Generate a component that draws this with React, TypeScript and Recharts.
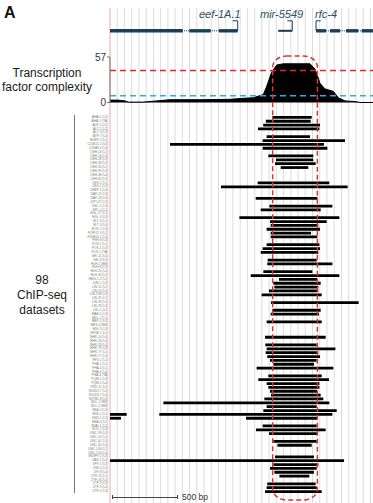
import React from 'react';
import {
  ComposedChart,
  BarChart,
  Bar,
  AreaChart,
  Area,
  Line,
  XAxis,
  YAxis,
  ReferenceLine,
  ReferenceArea
} from 'recharts';

// genomic window in bp
const xDomain = [0, 2000];
const gridStep = 55;
const gridBp = Array.from({ length: 36 }, (_, i) => (i + 1) * gridStep);

// highlighted region (red dashed box)
const highlight = [1237, 1577];

// thresholds on complexity track
const highThreshold = 40;
const lowThreshold = 8.5;
const complexityTicks = [0, 57];

const complexityBp = [0, 60, 114, 139, 253, 355, 456, 684, 912, 989, 1090, 1166, 1191, 1229, 1268, 1318, 1521, 1559, 1597, 1635, 1698, 1736, 1787, 1876, 1901, 2000];
const complexityVal = [3, 3, 2, 0.5, 0.5, 2, 3.5, 3.5, 4, 5, 6, 10, 20, 38, 47, 48.5, 48.5, 42, 24, 17, 14, 6, 2, 1, 0, 0];

// gene models
const geneNames = ['eef-1A.1', 'mir-5549', 'rfc-4'];
const geneLabelX = [199, 260, 315];
const eefExons = [[0, 553], [603, 766], [829, 971]];
const mirExons = [[1280, 1386]];
const rfcExons = [[1567, 1643], [1673, 1749], [1795, 1888], [1914, 2000]];
const geneSpans = [[0, 971], [1280, 1386], [1567, 2000]];
// TSS arrows: [tss, arrow tip]
const tssArrows = [[971, 933], [1386, 1349], [1567, 1602]];

const datasetNames = [
  'AHA-1 (L2)', 'AHA-1 (YA)', 'ALR-1 (L2)', 'ALY-2 (L2)', 'ALY-3 (L3)', 'ATF-7 (L4)', 'BLMP-1 (L1)', 'C01B12.2 (L3)', 'C16A3.4 (L4)', 'CEH-14 (L2)',
  'CEH-16 (L3)', 'CEH-26 (L3)', 'CEH-28 (L3)', 'CEH-30 (L2)', 'CEH-39 (L3)', 'CEH-48 (L4)', 'CEH-82 (L3)', 'CES-1 (L1)', 'CES-1 (L2)', 'CEBP-1 (L4)',
  'DAF-12 (L3)', 'DAF-16 (L4)', 'DPY-27 (L3)', 'DSC-1 (L3)', 'EFL-1 (L1)', 'EGL-27 (L1)', 'EGL-5 (L3)', 'ELT-3 (L1)', 'ELT-3 (L4)', 'EOR-1 (L3)',
  'F23F12.9 (L2)', 'F45H10.2 (L3)', 'FKH-8 (L4)', 'FOS-1 (L1)', 'FOS-1 (L3)', 'FOS-1 (YA)', 'GEI-11 (L4)', 'GEI-3 (L3)', 'HLH-1 (EM)', 'HLH-8 (L3)',
  'HLH-25 (L4)', 'HLH-30 (L4)', 'HMG-1.2 (L2)', 'JUN-1 (L3)', 'LIN-11 (L2)', 'LIN-13 (L3)', 'LIN-15B (L3)', 'LIN-35 (L1)', 'LIN-39 (L3)', 'LIN-39 (L4)',
  'LSL-1 (L2)', 'MAB-5 (L3)', 'MDL-1 (L1)', 'MEP-1 (L4)', 'MES-4 (EM)', 'MIG-5 (L3)', 'NFYA-1 (L2)', 'NHR-10 (L4)', 'NHR-28 (L3)', 'NHR-28 (L4)',
  'NHR-76 (L3)', 'NHR-77 (L1)', 'NHR-77 (L4)', 'PES-1 (L2)', 'PHA-1 (L1)', 'PHA-4 (L1)', 'PHA-4 (L4)', 'PHA-4 (YA)', 'PQM-1 (L3)', 'PQM-1 (L4)',
  'PRX-11 (L2)', 'R02D3.7 (L3)', 'R02D3.7 (L4)', 'R07B1.8 (L3)', 'SDC-2 (EM)', 'SDC-3 (EM)', 'SEA-2 (L3)', 'SKN-1 (L1)', 'SKN-1 (L3)', 'SMA-9 (L2)',
  'SNAI-1 (L2)', 'SOX-2 (L3)', 'UNC-39 (L3)', 'UNC-55 (L2)', 'UNC-62 (L3)', 'UNC-62 (L4)', 'UNC-130 (L2)', 'UNC-130 (L4)', 'W03F9.2 (L3)', 'ZAG-1 (L2)',
  'ZFP-1 (L3)', 'ZIM-2 (L2)', 'ZIP-8 (L4)', 'ZTF-11 (L1)', 'ZTF-16 (L2)', 'ZTF-9 (L3)', 'ZTF-9 (L4)', 'ZTF-2 (L3)'
];

// main peak per dataset (bp), null = no peak in window
const peakA: (number[] | null)[] = [
  [1235, 1534], [1185, 1526], [1165, 1597], [1125, 1592], null,
  [1191, 1521], [1161, 1787], [456, 1627], [1161, 1653], null,
  [1204, 1546], [1262, 1546], [1255, 1564], [1298, 1508], null,
  null, null, [1123, 1668], [844, 1807], null,
  null, [1108, 1577], null, [1212, 1691], [1146, 1602],
  null, [984, 1744], [1217, 1648], [1222, 1584], [1191, 1597],
  [1222, 1529], [1222, 1577], null, [1191, 1592], [1161, 1597],
  [1146, 1584], null, [1199, 1572], [1196, 1691], null,
  [1166, 1539], [1070, 1744], [1285, 1577], [1242, 1602], [1250, 1584],
  [1209, 1584], [1153, 1610], null, [1224, 1891], null,
  [1235, 1602], [1222, 1589], null, [1191, 1610], null,
  null, null, [1179, 1640], null, [1181, 1572],
  [1191, 1714], [1184, 1584], [1196, 1597], [1217, 1572], [1242, 1551],
  [1115, 1698], null, [1204, 1610], [1128, 1665], [1191, 1592],
  [1204, 1592], [1217, 1577], [1224, 1602], [1174, 1622], [406, 1668],
  [1191, 1572], [1166, 1724], [375, 1691], [1034, 1577], null,
  [1161, 1572], [1110, 1640], [1209, 1577], null, [1242, 1572],
  [1273, 1534], null, null, [1255, 1551], [0, 1780],
  [1242, 1584], [1217, 1572], [1250, 1551], [1288, 1516], null,
  [1196, 1564], [1191, 1572], [1179, 1610]
];

// secondary peaks
const peakB: Record<number, number[]> = {
  77: [0, 127],
  78: [0, 84]
};

const complexityData = complexityBp.map((bp, i) => ({ bp, value: complexityVal[i] }));
const chipData = datasetNames.map((name, i) => ({
  row: i,
  name,
  a: peakA[i],
  b: peakB[i] ?? null
}));
const edgeData = [{ x: xDomain[0], y: 0 }, { x: xDomain[1], y: 0 }];

const font = '"Liberation Sans", Arial, sans-serif';
const geneColor = '#1b3f55';
const W = 373;

function Box({ top, children }: { top: number; children: React.ReactNode }) {
  return <div style={{ position: 'absolute', left: 0, top }}>{children}</div>;
}

// invisible series so the reference layers get scales
function Anchor() {
  return <Line dataKey="y" stroke="none" dot={false} activeDot={false} isAnimationActive={false} />;
}

export default function App() {
  return (
    <div style={{ position: 'absolute', left: 0, top: 0, width: W, height: 503, background: '#fff', fontFamily: font, overflow: 'hidden' }}>
      {/* vertical grid */}
      <Box top={0}>
        <ComposedChart width={W} height={503} data={edgeData} margin={{ top: 8, right: 0, bottom: 0, left: 110 }}>
          <XAxis type="number" dataKey="x" domain={xDomain} hide />
          <YAxis hide domain={[0, 1]} />
          <Line dataKey="y" stroke="none" dot={false} activeDot={false} isAnimationActive={false} />
          {gridBp.map((b) => (
            <ReferenceLine key={b} x={b} stroke="#dcdcdc" strokeWidth={1} />
          ))}
          <ReferenceLine x={0} stroke="#f0a9a9" strokeWidth={1} />
        </ComposedChart>
      </Box>

      {/* gene track */}
      <Box top={18}>
        <ComposedChart width={W} height={20} data={edgeData} margin={{ top: 0, right: 0, bottom: 0, left: 110 }}>
          <XAxis type="number" dataKey="x" domain={xDomain} hide />
          <YAxis hide domain={[0, 10]} />
          <Line dataKey="y" stroke="none" dot={false} activeDot={false} isAnimationActive={false} />
          {geneSpans.map((s, i) => (
            <ReferenceLine key={'s' + i} segment={[{ x: s[0], y: 3.6 }, { x: s[1], y: 3.6 }]} stroke={geneColor} strokeWidth={1} strokeDasharray="1 1" />
          ))}
          {eefExons.concat(rfcExons).map((e, i) => (
            <ReferenceArea key={'e' + i} x1={e[0]} x2={e[1]} y1={2.75} y2={4.45} fill={geneColor} fillOpacity={1} stroke="none" ifOverflow="visible" />
          ))}
          {mirExons.map((e, i) => (
            <ReferenceArea key={'m' + i} x1={e[0]} x2={e[1]} y1={3.1} y2={4.1} fill={geneColor} fillOpacity={1} stroke="none" />
          ))}
          {tssArrows.map((t, i) => (
            <ReferenceLine key={'tv' + i} segment={[{ x: t[0], y: 3.6 }, { x: t[0], y: 8.6 }]} stroke={geneColor} strokeWidth={1} />
          ))}
          {tssArrows.map((t, i) => (
            <ReferenceLine key={'th' + i} segment={[{ x: t[0], y: 8.6 }, { x: t[1], y: 8.6 }]} stroke={geneColor} strokeWidth={1} />
          ))}
        </ComposedChart>
      </Box>
      {geneNames.map((g, i) => (
        <div key={g} style={{ position: 'absolute', left: geneLabelX[i], top: 9, fontSize: 11, lineHeight: '11px', fontStyle: 'italic', color: '#2c4f66', whiteSpace: 'nowrap' }}>
          {g}
        </div>
      ))}

      {/* complexity track */}
      <Box top={50.5}>
        <AreaChart width={W} height={57.5} data={complexityData} margin={{ top: 6, right: 0, bottom: 6, left: 0 }}>
          <XAxis type="number" dataKey="bp" domain={xDomain} hide />
          <YAxis
            width={110}
            domain={[0, 57]}
            ticks={complexityTicks}
            tickSize={3}
            tickMargin={1}
            axisLine={{ stroke: '#777' }}
            tickLine={{ stroke: '#777' }}
            tick={{ fontSize: 10, fill: '#333', fontFamily: font }}
          />
          <Area type="linear" dataKey="value" stroke="#000" strokeWidth={1} fill="#000" fillOpacity={1} isAnimationActive={false} />
          <ReferenceLine y={highThreshold} stroke="#e3262f" strokeWidth={1.5} strokeDasharray="6 4" />
          <ReferenceLine y={lowThreshold} stroke="#29b0e6" strokeWidth={1.5} strokeDasharray="6 4" />
        </AreaChart>
      </Box>

      {/* ChIP-seq peaks */}
      <Box top={114.7}>
        <BarChart layout="vertical" width={W} height={378} data={chipData} margin={{ top: 0, right: 0, bottom: 0, left: 0 }} barGap={-2.8} barCategoryGap={0}>
          <XAxis type="number" domain={xDomain} hide allowDataOverflow />
          <YAxis
            type="category"
            dataKey="row"
            width={110}
            interval={0}
            tickSize={0}
            tickMargin={2}
            axisLine={false}
            tickLine={false}
            tickFormatter={(v: number) => datasetNames[v]}
            tick={{ fontSize: 3.2, fill: '#777', fontFamily: font }}
          />
          <Bar dataKey="a" fill="#000" barSize={2.8} isAnimationActive={false} />
          <Bar dataKey="b" fill="#000" barSize={2.8} isAnimationActive={false} />
        </BarChart>
      </Box>

      {/* highlight box */}
      <Box top={54.7}>
        <ComposedChart width={W} height={446} data={edgeData} margin={{ top: 1, right: 0, bottom: 1, left: 110 }}>
          <XAxis type="number" dataKey="x" domain={xDomain} hide />
          <YAxis hide domain={[0, 1]} />
          <Line dataKey="y" stroke="none" dot={false} activeDot={false} isAnimationActive={false} />
          <ReferenceArea
            x1={highlight[0]}
            x2={highlight[1]}
            y1={0}
            y2={1}
            shape={(p: any) => (
              <rect x={p.x} y={p.y} width={p.width} height={p.height} rx={14} ry={11} fill="none" stroke="#d8353a" strokeWidth={1.5} strokeDasharray="5 3" />
            )}
          />
        </ComposedChart>
      </Box>

      {/* bracket for datasets */}
      <div style={{ position: 'absolute', left: 74, top: 115, width: 1, height: 378, background: '#777' }} />

      {/* scale bar */}
      <div style={{ position: 'absolute', left: 112, top: 496.5, width: 66, height: 1, background: '#444' }} />
      <div style={{ position: 'absolute', left: 112, top: 495, width: 1, height: 4, background: '#444' }} />
      <div style={{ position: 'absolute', left: 177, top: 495, width: 1, height: 4, background: '#444' }} />
      <div style={{ position: 'absolute', left: 182, top: 492, fontSize: 8.5, lineHeight: '10px', color: '#333', whiteSpace: 'nowrap' }}>500 bp</div>

      {/* labels */}
      <div style={{ position: 'absolute', left: 4, top: 4.6, fontSize: 16, lineHeight: '16px', fontWeight: 'bold', color: '#111' }}>A</div>
      <div style={{ position: 'absolute', left: 0, top: 65.6, width: 94, textAlign: 'center', fontSize: 12, lineHeight: '14.5px', color: '#1a1a1a' }}>
        Transcription
        <br />
        factor complexity
      </div>
      <div style={{ position: 'absolute', left: 0, top: 273.3, width: 84, textAlign: 'center', fontSize: 12, lineHeight: '15px', color: '#1a1a1a' }}>
        98
        <br />
        ChIP-seq
        <br />
        datasets
      </div>
    </div>
  );
}
